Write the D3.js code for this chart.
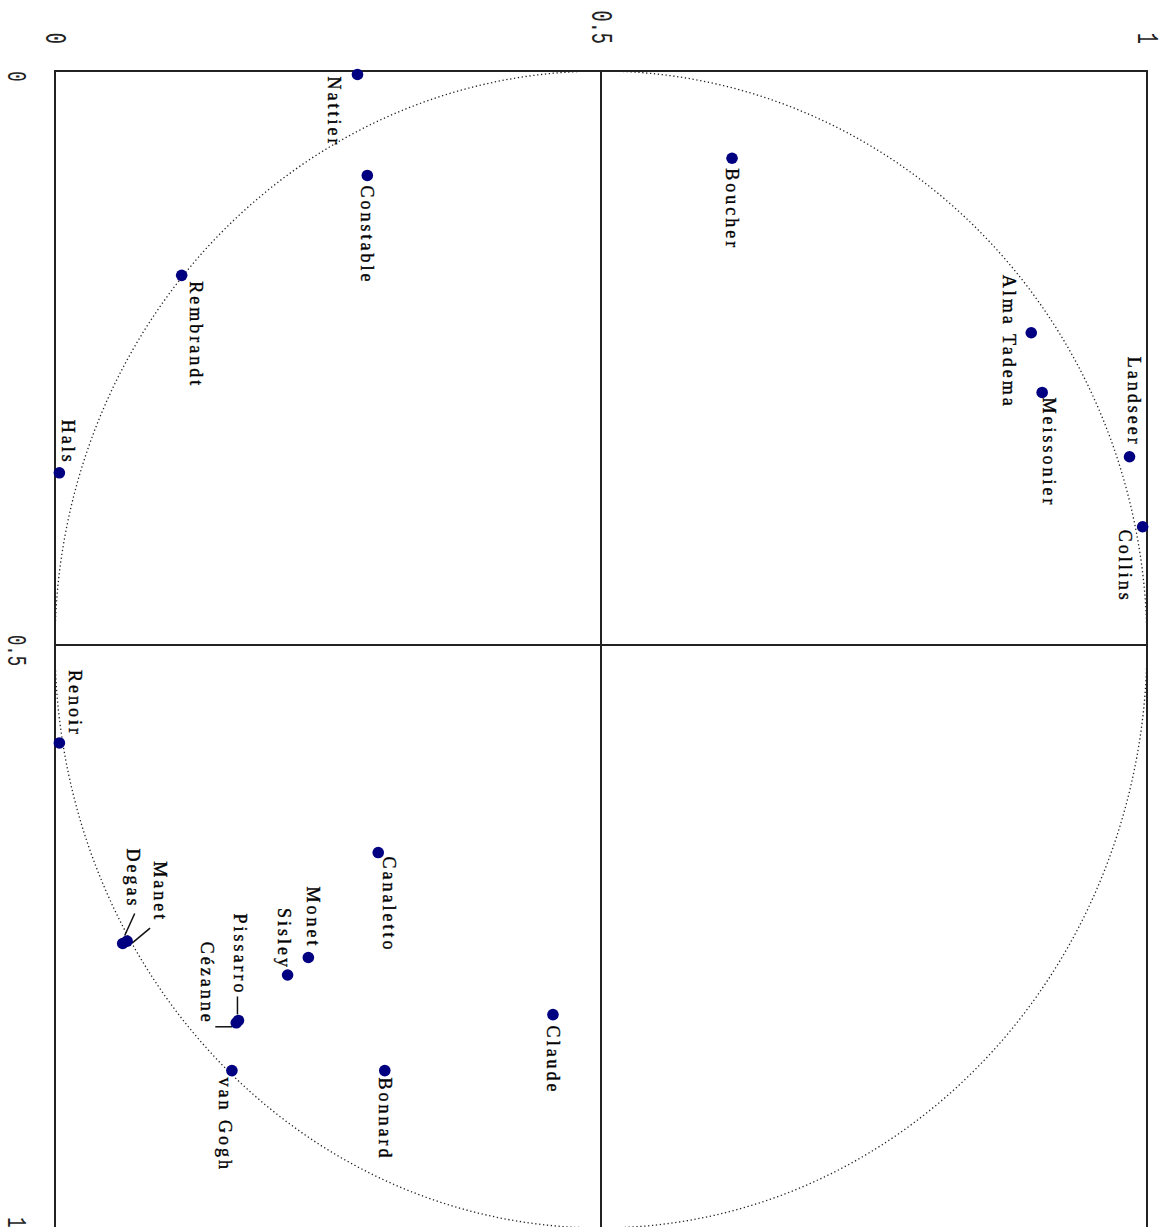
<!DOCTYPE html>
<html>
<head>
<meta charset="utf-8">
<script src="https://cdn.jsdelivr.net/npm/d3@7"></script>
<style>
  html, body { margin: 0; padding: 0; background: #fff; }
  svg { display: block; }
</style>
</head>
<body>
<svg id="chart" width="1164" height="1227"></svg>
<script>
// ---- data ----
const painters = ["Nattier","Constable","Boucher","Rembrandt","Hals","Alma Tadema","Meissonier","Landseer","Collins",
  "Renoir","Canaletto","Monet","Sisley","Pissarro","Cézanne","Manet","Degas","van Gogh","Bonnard","Claude"];
// value along the horizontal (top) axis
const factorA = [0.277,0.286,0.620,0.116,0.004,0.894,0.904,0.984,0.996,
  0.004,0.296,0.232,0.213,0.168,0.166,0.066,0.062,0.162,0.302,0.456];
// value along the vertical (left) axis
const factorB = [0.003,0.091,0.076,0.178,0.350,0.228,0.280,0.336,0.397,
  0.584,0.678,0.768,0.783,0.822,0.824,0.754,0.756,0.865,0.865,0.817];
const tickValues = [0, 0.5, 1];
const tickLabels = ["0", "0.5", "1"];

// ---- label placement (layout, not data): [dx, dy, anchor, leader] ----
const labelLayout = {
  "Nattier":    [-24, 2, "start"],
  "Constable":  [0, 10, "start"],
  "Boucher":    [0, 10, "start"],
  "Rembrandt":  [14, 6, "start"],
  "Hals":       [9, -8, "end"],
  "Alma Tadema":[-22, -58, "start"],
  "Meissonier": [7, 5, "start"],
  "Landseer":   [4, -10, "end"],
  "Collins":    [-18, 3, "start"],
  "Renoir":     [16, -6, "end"],
  "Canaletto":  [11, 4, "start"],
  "Monet":      [5, -9, "end"],
  "Sisley":     [-4, -5, "end"],
  "Pissarro":   [1, -25, "end", [[-1, -24], [-1, -6]]],
  "Cézanne":    [-29, 2, "end", [[-21, 4], [-4, 4]]],
  "Manet":      [33, -19, "end", [[23, -13], [5, 2]]],
  "Degas":      [10, -35, "end", [[12, -30], [2, -8]]],
  "van Gogh":   [-7, 7, "start"],
  "Bonnard":    [0, 7, "start"],
  "Claude":     [0, 11, "start"]
};

const svg = d3.select("#chart");
const sx = d3.scaleLinear().domain([0, 1]).range([55, 1147]);
const sy = d3.scaleLinear().domain([0, 0.5, 1]).range([71, 645, 1228]);

const lineColor = "#222";

// circle of radius 0.5 centred at (0.5, 0.5), dotted
const angles = d3.range(0, 361, 1).map(a => a * Math.PI / 180);
const circleLine = d3.line()
  .x(a => sx(0.5 + 0.5 * Math.cos(a)))
  .y(a => sy(0.5 + 0.5 * Math.sin(a)));
svg.append("path")
  .attr("d", circleLine(angles))
  .attr("fill", "none")
  .attr("stroke", "#222")
  .attr("stroke-width", 1.3)
  .attr("stroke-dasharray", "1.3 2.6");

// frame
svg.append("rect")
  .attr("x", sx(0)).attr("y", sy(0))
  .attr("width", sx(1) - sx(0)).attr("height", sy(1) - sy(0))
  .attr("fill", "none").attr("stroke", lineColor).attr("stroke-width", 2);

// cross lines at 0.5
svg.append("line")
  .attr("x1", sx(0.5)).attr("x2", sx(0.5)).attr("y1", sy(0)).attr("y2", sy(1))
  .attr("stroke", lineColor).attr("stroke-width", 2);
svg.append("line")
  .attr("x1", sx(0)).attr("x2", sx(1)).attr("y1", sy(0.5)).attr("y2", sy(0.5))
  .attr("stroke", lineColor).attr("stroke-width", 2);

// axes (rotated tick labels)
const tickFont = "'Liberation Mono', 'DejaVu Sans Mono', monospace";
const topAxis = d3.axisTop(sx).tickValues(tickValues).tickSize(0)
  .tickFormat((d, i) => tickLabels[i]);
const gTop = svg.append("g").attr("transform", "translate(0,0)").call(topAxis);
gTop.select(".domain").remove();
gTop.selectAll(".tick text")
  .attr("x", 0).attr("y", 0).attr("dy", null)
  .attr("text-anchor", "end")
  .attr("font-family", tickFont).attr("font-size", 30)
  .attr("fill", "#222")
  .attr("transform", "translate(-10,44) rotate(90) scale(0.62,1)");

const leftAxis = d3.axisLeft(sy).tickValues(tickValues).tickSize(0)
  .tickFormat((d, i) => tickLabels[i]);
const gLeft = svg.append("g").attr("transform", "translate(0,0)").call(leftAxis);
gLeft.select(".domain").remove();
gLeft.selectAll(".tick text")
  .attr("x", 0).attr("y", 0).attr("dy", null)
  .attr("text-anchor", "middle")
  .attr("font-family", tickFont).attr("font-size", 28)
  .attr("fill", "#222")
  .attr("transform", (d) => d === 1 ? "translate(8,-6) rotate(90) scale(0.62,1)"
                                    : "translate(8,5) rotate(90) scale(0.62,1)");

// points
const pts = painters.map((n, i) => ({ name: n, x: sx(factorA[i]), y: sy(factorB[i]) }));

// leader lines
pts.forEach(p => {
  const L = labelLayout[p.name];
  if (L && L[3]) {
    svg.append("line")
      .attr("x1", p.x + L[3][0][0]).attr("y1", p.y + L[3][0][1])
      .attr("x2", p.x + L[3][1][0]).attr("y2", p.y + L[3][1][1])
      .attr("stroke", "#111").attr("stroke-width", 1.5);
  }
});

svg.append("g").selectAll("circle").data(pts).join("circle")
  .attr("cx", d => d.x).attr("cy", d => d.y).attr("r", 5.8)
  .attr("fill", "#000080");

// labels, rotated 90° clockwise
svg.append("g").selectAll("text").data(pts).join("text")
  .attr("transform", d => {
    const L = labelLayout[d.name];
    return `translate(${d.x + L[0]},${d.y + L[1]}) rotate(90)`;
  })
  .attr("text-anchor", d => labelLayout[d.name][2])
  .attr("dy", "0.33em")
  .attr("font-family", "'Liberation Serif', 'Times New Roman', serif")
  .attr("font-size", 18)
  .attr("letter-spacing", 3)
  .attr("fill", "#000")
  .attr("stroke", "#000")
  .attr("stroke-width", 0.35)
  .text(d => d.name);
</script>
</body>
</html>
